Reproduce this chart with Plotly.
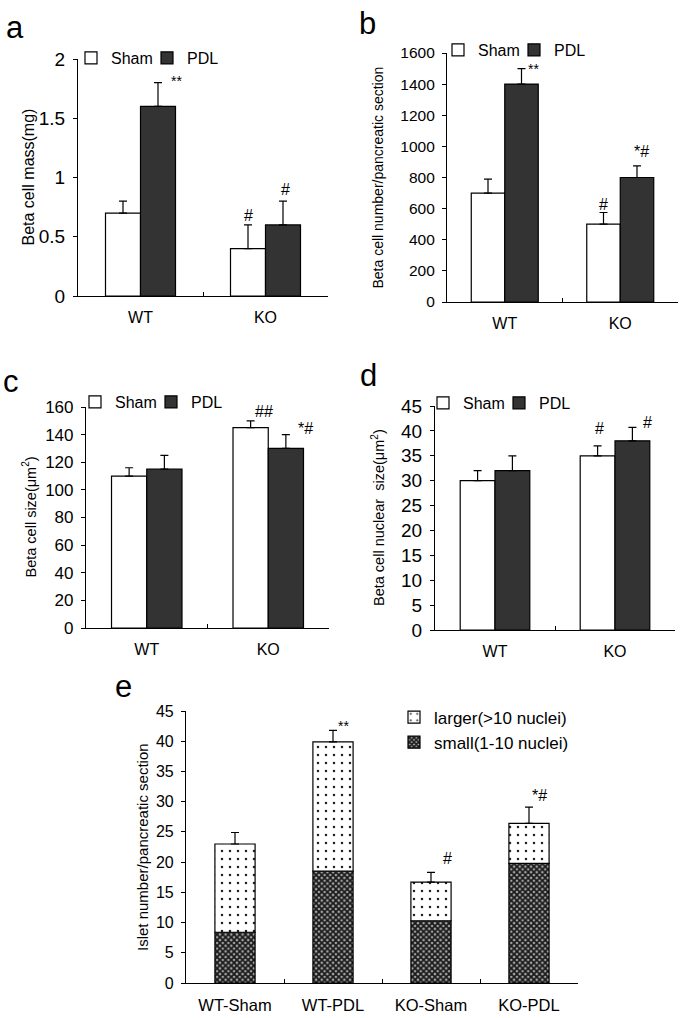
import plotly.graph_objects as go

W, H = 684, 1018
FONT = "Liberation Sans, Arial, sans-serif"

# ---------------- data ----------------
groups = ["WT", "KO"]
series_names = ["Sham", "PDL"]

a_sham = [0.7, 0.4]
a_sham_err = [0.1, 0.2]
a_pdl = [1.6, 0.6]
a_pdl_err = [0.2, 0.2]
a_sham_sig = ["", "#"]
a_pdl_sig = ["**", "#"]

b_sham = [700, 500]
b_sham_err = [90, 75]
b_pdl = [1400, 800]
b_pdl_err = [100, 75]
b_sham_sig = ["", "#"]
b_pdl_sig = ["**", "*#"]

c_sham = [110, 145]
c_sham_err = [6, 5]
c_pdl = [115, 130]
c_pdl_err = [10, 10]
c_sham_sig = ["", "##"]
c_pdl_sig = ["", "*#"]

d_sham = [30, 35]
d_sham_err = [2, 2]
d_pdl = [32, 38]
d_pdl_err = [3, 2.7]
d_sham_sig = ["", "#"]
d_pdl_sig = ["", "#"]

e_groups = ["WT-Sham", "WT-PDL", "KO-Sham", "KO-PDL"]
e_small = [8.4, 18.5, 10.3, 19.8]
e_larger = [14.6, 21.4, 6.4, 6.6]
e_err = [1.9, 1.9, 1.6, 2.7]
e_sig = ["", "**", "#", "*#"]

# ---------------- style / layout helpers ----------------
def px_x(p):
    return p / W

def px_y(p):
    return 1 - p / H

panels = {
    1: dict(x=(78, 328), y=(296, 59), rng=[0, 2], dtick=0.5, title="Beta cell mass(mg)",
            tfs=19, xfs=16, ttl=16, title_x=28, bw=0.28, letter="a", lpos=(15, 27),
            legend=(71, 58)),
    2: dict(x=(447, 678), y=(302, 53), rng=[0, 1600], dtick=200,
            title="Beta cell number/pancreatic section", tfs=15.5, xfs=16, ttl=14,
            title_x=377, bw=0.29, letter="b", lpos=(367, 23), legend=(438, 50)),
    3: dict(x=(86, 329), y=(628, 407), rng=[0, 160], dtick=20,
            title="Beta cell size(μm<sup>2</sup>)", tfs=17, xfs=16, ttl=14.5, title_x=29,
            bw=0.29, letter="c", lpos=(11, 381), legend=(75, 402)),
    4: dict(x=(435, 675), y=(630, 406), rng=[0, 45], dtick=5,
            title="Beta cell nuclear  size(μm<sup>2</sup>)", tfs=19, xfs=16, ttl=14.5,
            title_x=378, bw=0.29, letter="d", lpos=(368, 375), legend=(423, 403)),
    5: dict(x=(186, 578), y=(983, 711), rng=[0, 45], dtick=5,
            title="Islet number/pancreatic section", tfs=16, xfs=16.5, ttl=15,
            title_x=142, bw=0.41, letter="e", lpos=(123, 686), legend=(394, 730)),
}

# significance label pixel nudges (style only): (panel, series, group) -> (dx, dy)
sig_shift = {
    (1, 1, 0): (18, 2), (1, 0, 1): (0, 9), (1, 1, 1): (2, 12),
    (2, 1, 0): (12, 0), (2, 0, 1): (0, 8), (2, 1, 1): (4, 14),
    (3, 0, 1): (13, 9), (3, 1, 1): (20, 6),
    (4, 0, 1): (2, 17), (4, 1, 1): (15, 5),
    (5, 0, 1): (10, 4), (5, 0, 2): (16, 14), (5, 0, 3): (10, 12),
}

def sig_font(s):
    return dict(size=14 if s == "**" else 16, color="black", family=FONT)

DARK = "#333333"
LINE = dict(color="black", width=1.2)

fig = go.Figure()
annotations = []

grouped = {
    1: (a_sham, a_sham_err, a_pdl, a_pdl_err, a_sham_sig, a_pdl_sig),
    2: (b_sham, b_sham_err, b_pdl, b_pdl_err, b_sham_sig, b_pdl_sig),
    3: (c_sham, c_sham_err, c_pdl, c_pdl_err, c_sham_sig, c_pdl_sig),
    4: (d_sham, d_sham_err, d_pdl, d_pdl_err, d_sham_sig, d_pdl_sig),
}

for k, (sv, se, pv, pe, ss, ps) in grouped.items():
    P = panels[k]
    bw = P["bw"]
    xa = "x" if k == 1 else f"x{k}"
    ya = "y" if k == 1 else f"y{k}"
    leg = "legend" if k == 1 else f"legend{k}"
    for si, (vals, errs, sigs, fillc) in enumerate(
            [(sv, se, ss, "white"), (pv, pe, ps, DARK)]):
        fig.add_trace(go.Bar(
            x=groups, y=vals, name=series_names[si],
            width=[bw] * len(groups), offset=[-bw if si == 0 else 0] * len(groups),
            marker=dict(color=fillc, line=LINE),
            error_y=dict(type="data", array=errs, arrayminus=[0] * len(errs),
                         symmetric=False, color="black", thickness=1.2, width=4),
            xaxis=xa, yaxis=ya, legend=leg, showlegend=True,
        ))
        for gi, s in enumerate(sigs):
            if not s:
                continue
            dx, dy = sig_shift.get((k, si, gi), (0, 6))
            xc = gi + (-bw / 2 if si == 0 else bw / 2)
            annotations.append(dict(
                x=xc, y=vals[gi] + errs[gi], xref=xa, yref=ya, text=s,
                showarrow=False, xanchor="center", yanchor="middle",
                xshift=dx, yshift=dy, font=sig_font(s)))

# panel e (stacked)
P = panels[5]
bw = P["bw"]
fig.add_trace(go.Bar(
    x=e_groups, y=e_small, name="small(1-10 nuclei)",
    width=[bw] * 4, offset=[-bw / 2] * 4,
    marker=dict(color="#8a8a8a", line=LINE,
                pattern=dict(shape="x", fgcolor="#1a1a1a", bgcolor="#a8a8a8",
                             size=4, solidity=0.7)),
    xaxis="x5", yaxis="y5", legend="legend5",
))
fig.add_trace(go.Bar(
    x=e_groups, y=e_larger, base=e_small, name="larger(>10 nuclei)",
    width=[bw] * 4, offset=[-bw / 2] * 4,
    marker=dict(color="white", line=LINE,
                pattern=dict(shape=".", fgcolor="#222222", bgcolor="white",
                             size=8, solidity=0.08)),
    error_y=dict(type="data", array=e_err, arrayminus=[0] * 4, symmetric=False,
                 color="black", thickness=1.2, width=4),
    xaxis="x5", yaxis="y5", legend="legend5",
))
for gi, s in enumerate(e_sig):
    if not s:
        continue
    dx, dy = sig_shift.get((5, 0, gi), (0, 6))
    annotations.append(dict(
        x=gi, y=e_small[gi] + e_larger[gi] + e_err[gi], xref="x5", yref="y5", text=s,
        showarrow=False, xanchor="center", yanchor="middle", xshift=dx, yshift=dy,
        font=sig_font(s)))

layout = dict(
    template="none",
    width=W, height=H, margin=dict(l=0, r=0, t=0, b=0, pad=0, autoexpand=False),
    paper_bgcolor="white", plot_bgcolor="white",
    font=dict(family=FONT, color="black", size=15),
    barmode="overlay", showlegend=True,
)

for k, P in panels.items():
    xs = "" if k == 1 else str(k)
    ncat = 4 if k == 5 else 2
    x0, x1 = P["x"]
    yz, yt = P["y"]
    layout[f"xaxis{xs}"] = dict(
        domain=[px_x(x0), px_x(x1)], anchor=f"y{xs}", type="category",
        range=[-0.5, ncat - 0.5], showline=True, linecolor="black", linewidth=1.2,
        ticks="inside", tickson="boundaries", ticklen=4, tickwidth=1.2, tickcolor="black",
        showgrid=False, zeroline=False, tickfont=dict(size=P["xfs"]), ticklabelstandoff=7,
        automargin=False, fixedrange=True,
    )
    layout[f"yaxis{xs}"] = dict(
        domain=[px_y(yz), px_y(yt)], anchor=f"x{xs}", range=P["rng"], dtick=P["dtick"],
        tick0=0, showline=True, linecolor="black", linewidth=1.2, ticks="outside",
        ticklen=4, tickwidth=1.2, tickcolor="black", showgrid=False, zeroline=False,
        tickfont=dict(size=P["tfs"]), ticklabelstandoff=4, automargin=False,
        fixedrange=True,
    )
    # inside half of the cross tick marks
    layout[f"yaxis{k + 5}"] = dict(
        domain=[px_y(yz), px_y(yt)], anchor=f"x{xs}", overlaying=f"y{xs}",
        range=P["rng"], dtick=P["dtick"], tick0=0, showline=False, ticks="inside",
        ticklen=4, tickwidth=1.2, tickcolor="black", showticklabels=False,
        showgrid=False, zeroline=False, automargin=False, fixedrange=True,
    )
    # y axis title (rotated text)
    annotations.append(dict(
        x=px_x(P["title_x"]), y=px_y((yz + yt) / 2), xref="paper", yref="paper",
        text=P["title"], textangle=-90, showarrow=False, xanchor="center",
        yanchor="middle", font=dict(size=P["ttl"], color="black", family=FONT)))
    # panel letter
    annotations.append(dict(
        x=px_x(P["lpos"][0]), y=px_y(P["lpos"][1]), xref="paper", yref="paper",
        text=P["letter"], showarrow=False, xanchor="center", yanchor="middle",
        font=dict(size=31, color="black", family=FONT)))
    lg = "legend" if k == 1 else f"legend{k}"
    lx, ly = P["legend"]
    ld = dict(x=px_x(lx), y=px_y(ly), xanchor="left", yanchor="middle",
              bgcolor="rgba(0,0,0,0)", itemclick=False, itemdoubleclick=False)
    if k == 5:
        ld.update(orientation="v", traceorder="reversed",
                  font=dict(size=17, family=FONT, color="black"))
    else:
        ld.update(orientation="h", entrywidth=31, traceorder="normal",
                  font=dict(size=16, family=FONT, color="black"))
    layout[lg] = ld

layout["annotations"] = annotations
fig.update_layout(**layout)

# remove the default 8px page margin so the figure fills the browser window exactly
fig.write_html(
    "out.html",
    config={"displayModeBar": False},
    post_script="document.body.style.margin='0';document.body.style.overflow='hidden';",
)
